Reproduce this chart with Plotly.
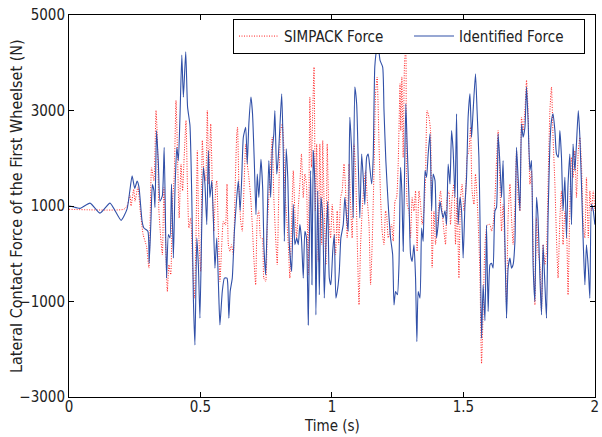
import plotly.graph_objects as go

# ---- data ----
ident_t = [0.000,0.011,0.042,0.080,0.118,0.156,0.198,0.221,0.240,0.250,0.259,0.266,0.278,0.285,0.300,0.305,0.312,0.317,0.323,0.327,
0.333,0.340,0.346,0.355,0.362,0.371,0.378,0.384,0.390,0.397,0.403,0.410,0.416,0.422,0.429,0.435,0.444,0.451,0.460,0.467,
0.473,0.479,0.486,0.492,0.498,0.505,0.511,0.517,0.524,0.530,0.536,0.543,0.549,0.555,0.562,0.570,0.574,0.583,0.591,0.601,
0.604,0.608,0.613,0.621,0.629,0.638,0.644,0.651,0.657,0.663,0.672,0.678,0.684,0.692,0.698,0.705,0.711,0.716,0.722,0.730,
0.737,0.741,0.748,0.754,0.760,0.767,0.773,0.779,0.783,0.790,0.796,0.802,0.809,0.815,0.819,0.826,0.832,0.838,0.847,0.853,
0.859,0.866,0.872,0.878,0.884,0.891,0.897,0.903,0.910,0.914,0.919,0.924,0.929,0.935,0.939,0.946,0.952,0.958,0.965,0.971,
0.977,0.984,0.990,0.996,1.003,1.009,1.015,1.022,1.028,1.034,1.043,1.049,1.056,1.062,1.068,1.075,1.081,1.087,1.094,1.100,
1.106,1.113,1.119,1.125,1.132,1.138,1.144,1.151,1.157,1.163,1.170,1.176,1.183,1.193,1.198,1.205,1.214,1.223,1.231,1.236,
1.242,1.249,1.255,1.261,1.266,1.271,1.276,1.281,1.286,1.293,1.299,1.305,1.312,1.318,1.323,1.328,1.335,1.341,1.347,1.354,
1.360,1.366,1.373,1.379,1.385,1.392,1.398,1.404,1.411,1.417,1.423,1.430,1.436,1.442,1.449,1.455,1.461,1.468,1.474,1.480,
1.487,1.493,1.499,1.506,1.512,1.518,1.525,1.531,1.537,1.546,1.552,1.559,1.563,1.569,1.575,1.582,1.588,1.594,1.601,1.607,
1.613,1.620,1.626,1.632,1.639,1.645,1.651,1.658,1.664,1.670,1.677,1.683,1.689,1.696,1.702,1.708,1.715,1.721,1.727,1.734,
1.740,1.746,1.753,1.759,1.765,1.772,1.778,1.784,1.791,1.797,1.803,1.810,1.816,1.822,1.829,1.835,1.841,1.848,1.854,1.861,
1.867,1.873,1.879,1.886,1.892,1.898,1.905,1.911,1.917,1.924,1.930,1.937,1.943,1.949,1.956,1.962,1.968,1.975,1.981,1.987,
1.994,2.000]
ident_f = [1000,990,950,1060,850,1060,700,940,1630,1370,1520,1400,680,540,470,-200,750,1450,1320,970,
2580,1880,1100,1210,2230,-510,400,330,1460,-90,1320,2230,1950,2860,4160,3280,4230,3070,2690,1180,
-930,-1910,330,-230,-1350,610,1810,1460,610,2160,1180,1530,750,-300,330,-930,-1490,-790,-510,-510,
-650,-1350,-790,-510,470,1180,1530,900,1600,2440,2650,1880,2720,3280,2930,1880,820,1670,1180,1980,
1320,190,-440,750,1950,1180,2160,2510,3000,1670,2020,2650,3350,2100,260,2200,1600,200,-370,1035,
190,330,190,610,330,-510,470,330,-1490,190,1740,-650,2160,1460,-1280,1320,-860,1180,750,-930,
190,1100,-510,-650,50,400,-930,-720,-370,330,610,1180,750,470,2860,2160,750,3490,3140,1950,
750,2090,1600,1035,2020,2090,1810,1460,2020,3910,4260,4330,4050,3910,3000,1950,1035,330,-20,-1070,
-790,-860,-230,1810,1300,50,1600,3140,2300,1180,-20,-160,190,-510,-1840,-790,-930,540,260,1740,
1600,2090,2510,900,1670,1530,330,610,1100,900,750,900,610,1880,1460,2580,2160,1180,2930,610,
1180,900,-90,1035,1600,2860,3350,2440,3000,3770,3000,2020,750,-1770,-650,-1400,600,-1210,-230,-200,
-300,900,970,2510,1880,1180,1950,190,-1350,-300,-90,-300,-230,260,2230,1600,900,2720,2440,2650,
3490,2790,1740,1950,-230,-1000,1180,750,-510,-1280,190,-650,-1350,750,2300,2790,2930,2580,2090,2020,
2580,2020,900,1600,330,1460,2090,610,2300,1740,2300,3000,2440,1460,190,-650,190,-300,-930,1035,
900,610]

simpack_t = [0.000,0.208,0.221,0.232,0.236,0.246,0.251,0.262,0.271,0.282,0.295,0.304,0.314,0.323,0.331,0.336,0.342,0.349,0.355,0.361,
0.368,0.374,0.380,0.387,0.393,0.400,0.407,0.413,0.419,0.426,0.432,0.438,0.445,0.450,0.456,0.463,0.470,0.477,0.483,0.488,
0.494,0.501,0.507,0.513,0.520,0.526,0.532,0.539,0.545,0.551,0.558,0.562,0.568,0.574,0.581,0.587,0.595,0.601,0.606,0.612,
0.618,0.625,0.631,0.638,0.641,0.646,0.653,0.659,0.666,0.672,0.678,0.684,0.691,0.697,0.703,0.710,0.716,0.722,0.729,0.735,
0.741,0.748,0.754,0.760,0.767,0.773,0.779,0.786,0.792,0.798,0.805,0.811,0.817,0.821,0.828,0.834,0.840,0.847,0.853,0.859,
0.866,0.872,0.878,0.884,0.891,0.897,0.903,0.910,0.916,0.922,0.927,0.932,0.937,0.942,0.948,0.954,0.961,0.965,0.971,0.977,
0.982,0.989,0.995,1.001,1.008,1.014,1.020,1.026,1.033,1.039,1.046,1.052,1.058,1.065,1.071,1.077,1.084,1.090,1.096,1.103,
1.109,1.115,1.122,1.128,1.134,1.141,1.147,1.153,1.160,1.166,1.172,1.179,1.185,1.191,1.198,1.204,1.208,1.214,1.221,1.227,
1.233,1.240,1.246,1.252,1.259,1.262,1.266,1.271,1.276,1.281,1.286,1.293,1.299,1.305,1.312,1.318,1.324,1.331,1.337,1.343,
1.350,1.356,1.362,1.369,1.375,1.381,1.388,1.394,1.400,1.407,1.413,1.419,1.426,1.432,1.438,1.445,1.451,1.457,1.464,1.470,
1.476,1.483,1.489,1.495,1.502,1.508,1.514,1.521,1.527,1.533,1.540,1.546,1.552,1.559,1.563,1.569,1.575,1.582,1.588,1.594,
1.601,1.607,1.613,1.620,1.626,1.632,1.639,1.645,1.651,1.658,1.664,1.670,1.677,1.683,1.689,1.696,1.702,1.708,1.715,1.721,
1.727,1.734,1.740,1.746,1.753,1.759,1.765,1.772,1.778,1.784,1.791,1.797,1.803,1.810,1.816,1.822,1.829,1.835,1.841,1.848,
1.854,1.860,1.867,1.873,1.879,1.886,1.892,1.898,1.905,1.911,1.917,1.924,1.930,1.937,1.943,1.949,1.956,1.962,1.968,1.975,
1.981,1.987,1.994,2.000]
simpack_f = [930,930,1000,1230,1000,1350,1100,1400,900,400,150,-300,1800,1530,3000,2440,900,330,-20,1390,
120,-790,-230,-440,1035,1600,3210,2020,750,1880,1320,2020,2790,1530,540,750,-230,-930,330,2160,
330,-370,2370,1740,1530,3000,1460,2720,1460,470,1390,1530,470,-580,190,680,600,1460,190,50,
190,-20,1180,2510,2650,1460,680,470,1460,2300,1880,1600,1180,610,-90,-650,750,900,330,330,
-510,-580,540,1180,1880,2440,1180,330,-230,1320,2580,2720,2230,1320,754,193,-510,754,1740,895,
333,965,1460,2090,1175,1670,1460,-440,3280,1810,3000,3910,895,2300,-160,2300,190,2370,820,-230,
2300,680,330,1035,470,-20,895,190,1175,1320,1880,1320,330,1880,1035,330,2300,1740,330,-1070,
190,895,1460,1740,1175,610,-650,190,1740,3350,3700,2300,1175,470,190,895,824,333,474,614,
263,1105,1175,1877,3562,2580,3703,2018,3984,4300,1035,895,333,1175,895,1316,52,1316,1035,614,
895,1596,3000,2860,2580,-299,895,193,614,1035,1316,895,474,193,1175,1316,614,1175,1456,193,
1175,-509,1175,1456,895,1175,2018,2158,2650,1316,1035,1667,1175,263,-509,-2300,-1211,193,544,614,
614,474,614,1175,1947,2580,1456,473,1035,52,-1070,754,1456,754,193,1035,2158,1175,895,2860,
2580,3000,3633,3000,1456,1737,193,-1070,754,52,-228,-1211,193,-228,52,1456,3000,3492,2439,1456,
333,-509,754,1316,193,895,614,-860,1035,2018,1596,2158,1175,2158,2439,1877,614,333,1596,333,
1316,895,1316,895]

x_ticks = [0, 0.5, 1, 1.5, 2]
x_tick_text = ["0", "0.5", "1", "1.5", "2"]
y_ticks = [-3000, -1000, 1000, 3000, 5000]
y_tick_text = ["\u22123000", "\u22121000", "1000", "3000", "5000"]

FONT = "DejaVu Sans Condensed, Liberation Sans Narrow, sans-serif"
TXT = "#222222"

fig = go.Figure()
fig.add_trace(go.Scatter(x=simpack_t, y=simpack_f, mode="lines", name="SIMPACK Force",
                         line=dict(color="#ff2020", width=1, dash="1px,1.5px",
                                   shape="spline", smoothing=0.5)))
fig.add_trace(go.Scatter(x=ident_t, y=ident_f, mode="lines", name="Identified Force",
                         line=dict(color="#3150a8", width=1.1, shape="spline", smoothing=0.5)))

axis_common = dict(showgrid=False, zeroline=False, showline=True, linecolor="black", linewidth=1,
                   mirror="allticks", ticks="inside", ticklen=5, tickcolor="black",
                   automargin=False,
                   tickfont=dict(family=FONT, size=15, color=TXT))

fig.update_layout(
    width=602, height=437,
    margin=dict(l=69, r=7, t=15, b=40),
    paper_bgcolor="white", plot_bgcolor="white",
    font=dict(family=FONT, size=15, color=TXT),
    showlegend=True,
    legend=dict(orientation="h", x=0.981, xanchor="right", y=0.99, yanchor="top",
                bgcolor="white", bordercolor="black", borderwidth=1,
                font=dict(family=FONT, size=15, color=TXT),
                entrywidth=120, itemwidth=40, tracegroupgap=0),
    annotations=[
        dict(text="Time (s)", xref="paper", yref="paper", x=0.5, y=-0.075,
             xanchor="center", yanchor="middle", showarrow=False,
             font=dict(family=FONT, size=15, color=TXT)),
        dict(text="Lateral Contact Force of the First Wheelset (N)", xref="paper", yref="paper",
             x=-0.1008, y=0.5, xanchor="center", yanchor="middle", textangle=-90, showarrow=False,
             font=dict(family=FONT, size=16, color=TXT)),
    ],
)
fig.update_xaxes(range=[0, 2.0005], tickvals=x_ticks, ticktext=x_tick_text,
                 ticklabelstandoff=-4, **axis_common)
fig.update_yaxes(range=[-3000, 5000], tickvals=y_ticks, ticktext=y_tick_text, **axis_common)

fig.write_html("out.html", config={"displayModeBar": False},
               post_script="document.body.style.margin='0';document.body.style.padding='0';")
